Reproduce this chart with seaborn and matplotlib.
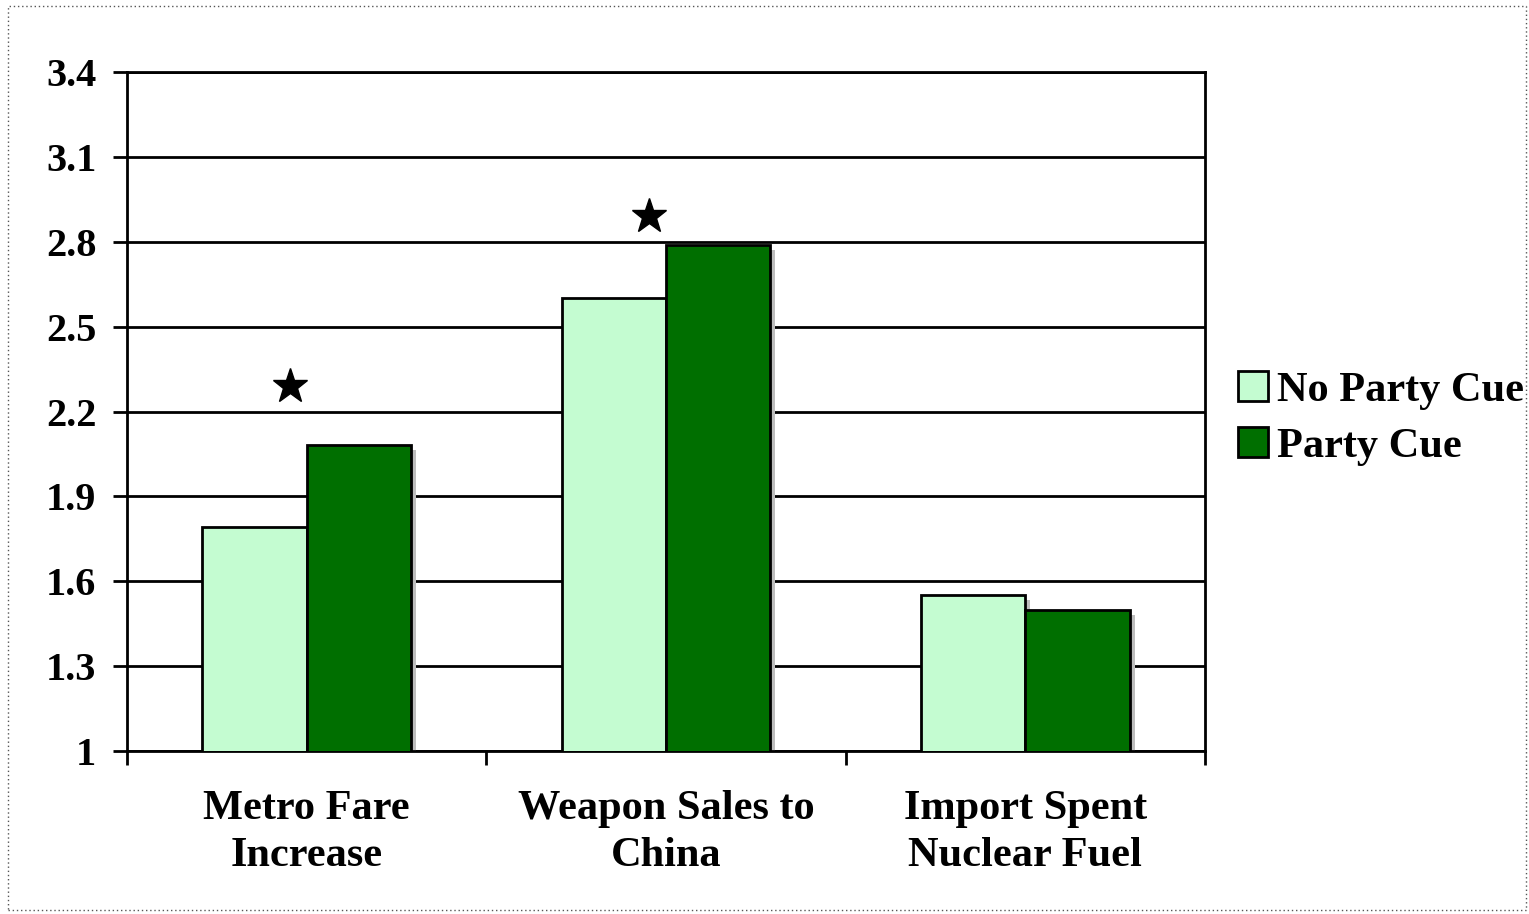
import matplotlib
matplotlib.use("Agg")
import matplotlib.pyplot as plt
import matplotlib.transforms as mtransforms
from matplotlib.patches import Rectangle
import seaborn as sns
import pandas as pd

categories = ["Metro Fare\nIncrease", "Weapon Sales to\nChina", "Import Spent\nNuclear Fuel"]
series_names = ["No Party Cue", "Party Cue"]
no_party_cue = [1.79, 2.60, 1.55]
party_cue = [2.08, 2.79, 1.50]
star_heights = [2.29, 2.89, None]
y_ticks = [1, 1.3, 1.6, 1.9, 2.2, 2.5, 2.8, 3.1, 3.4]
y_tick_labels = ["1", "1.3", "1.6", "1.9", "2.2", "2.5", "2.8", "3.1", "3.4"]
colors = ["#C4FCD1", "#006F00"]

df = pd.DataFrame({
    "category": categories * 2,
    "series": [series_names[0]] * 3 + [series_names[1]] * 3,
    "value": no_party_cue + party_cue,
})

sns.set_theme(style="white")
plt.rcParams["font.family"] = ["Liberation Serif", "DejaVu Serif"]
plt.rcParams["font.weight"] = "bold"
plt.rcParams["text.color"] = "black"
plt.rcParams["xtick.color"] = "black"
plt.rcParams["ytick.color"] = "black"

fig = plt.figure(figsize=(15.29, 9.14), dpi=100)
ax = fig.add_axes([127 / 1529, 1 - 751 / 914, (1205 - 127) / 1529, (751 - 72) / 914])

sns.barplot(data=df, x="category", y="value", hue="series", palette=colors,
            width=0.58, edgecolor="black", linewidth=2, ax=ax, legend=True,
            saturation=1, zorder=3)

# shadows
shadow_tr = mtransforms.offset_copy(ax.transData, fig=fig, x=5, y=-5, units="dots")
for p in list(ax.patches):
    if p.get_height() > 0:
        ax.add_patch(Rectangle((p.get_x(), 1.0), p.get_width(), p.get_y() + p.get_height() - 1.0,
                               transform=shadow_tr, facecolor="#BDBDBD", edgecolor="none",
                               zorder=2.5, clip_on=True))

ax.set_ylim(1, 3.4)
ax.set_xlim(-0.5, 2.5)
ax.set_yticks(y_ticks)
ax.set_yticklabels(y_tick_labels, fontsize=29, fontweight="bold", color="black")
ax.yaxis.grid(True, color="black", linewidth=2, zorder=1)
ax.set_axisbelow(True)
ax.set_xlabel("")
ax.set_ylabel("")
ax.set_xticks(range(len(categories)))
ax.set_xticklabels(categories, fontsize=30.5, fontweight="bold", linespacing=1.3, color="black")
ax.set_xticks([-0.5, 0.5, 1.5, 2.5], minor=True)
ax.tick_params(axis="x", which="major", length=0, pad=28)
ax.tick_params(axis="x", which="minor", length=10, width=2, color="black", direction="out", bottom=True)
ax.tick_params(axis="y", which="major", length=10, width=2, color="black", direction="out", left=True, pad=12)
for s in ax.spines.values():
    s.set_visible(True)
    s.set_color("black")
    s.set_linewidth(2)

for i, h in enumerate(star_heights):
    if h is not None:
        ax.plot([i - 0.047], [h], marker="*", color="black", markersize=26, zorder=5, clip_on=False)

handles, labels = ax.get_legend_handles_labels()
ax.legend(handles, labels, loc="center left", bbox_to_anchor=(0.995, 0.49), frameon=False,
          prop={"family": "Liberation Serif", "weight": "bold", "size": 30.5},
          handlelength=0.72, handleheight=0.72, handletextpad=0.2, labelspacing=0.4)
for h in ax.get_legend().legend_handles:
    h.set_edgecolor("black")
    h.set_linewidth(2)

fig.patches.append(Rectangle((8 / 1529, 4 / 914), 1518 / 1529, 904 / 914, transform=fig.transFigure,
                             fill=False, edgecolor="#555555", linestyle=(0, (1, 2)), linewidth=1))

fig.savefig("out.png", dpi=100)
